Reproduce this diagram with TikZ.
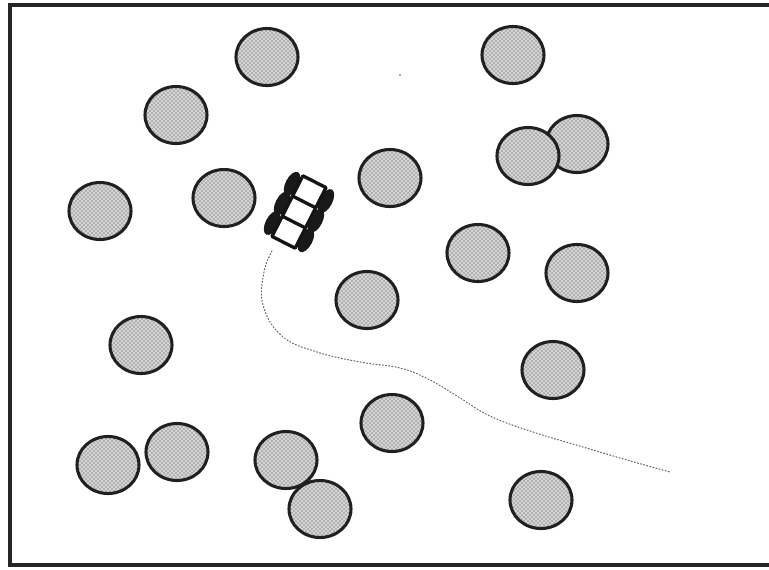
\documentclass[tikz,border=0pt]{standalone}
\usetikzlibrary{patterns}
\begin{document}
\begin{tikzpicture}[x=0.75pt,y=-0.75pt,
  obstacle/.style={draw=black!88,line width=2.3pt,fill=gray!32,
    postaction={pattern=crosshatch dots,pattern color=black!80}},
  wheel/.style={fill=black!90},
  chassis/.style={draw=black!92,line width=2.5pt,fill=white,line join=round},
  trail/.style={draw=black!60,line width=0.8pt,dash pattern=on 0.8pt off 1.6pt,line cap=round}]
\useasboundingbox (0,0) rectangle (769,569);
% frame
\draw[line width=2.4pt,black!85] (769,5) -- (10,5) -- (10,565) -- (769,565);

% obstacles (order matters where they overlap)
\foreach \cx/\cy in {267/57, 513/55, 176/115, 577/144, 528/156, 100/211,
  224/198, 390/178, 478/253, 577/273, 367/300, 141/345, 553/370,
  392/423, 108/465, 177/452, 286/460, 320/509, 541/500}
  \path[obstacle] (\cx,\cy) ellipse [x radius=31, y radius=28.5];

% stray mark
\fill[black!70] (400,75) circle [radius=0.9];

% travelled path
\draw[trail] plot[smooth,tension=0.7] coordinates {
  (272,251) (264,272) (263,305) (282,336) (317,352) (360,362) (400,368)
  (428,379) (457,396) (490,416) (533,432) (583,447) (627,460) (670,472)};

% vehicle
\begin{scope}[shift={(299,212)},rotate=-27]
  \foreach \s in {-1,1}
    \foreach \v in {-22,0,22}
      \fill[wheel] (\s*19,\v) ellipse [x radius=6.5, y radius=13];
  \path[chassis] (-13,-34) rectangle (13,34);
  \draw[chassis,fill=none] (-13,-11.3) -- (13,-11.3) (-13,11.3) -- (13,11.3);
\end{scope}
\end{tikzpicture}
\end{document}
